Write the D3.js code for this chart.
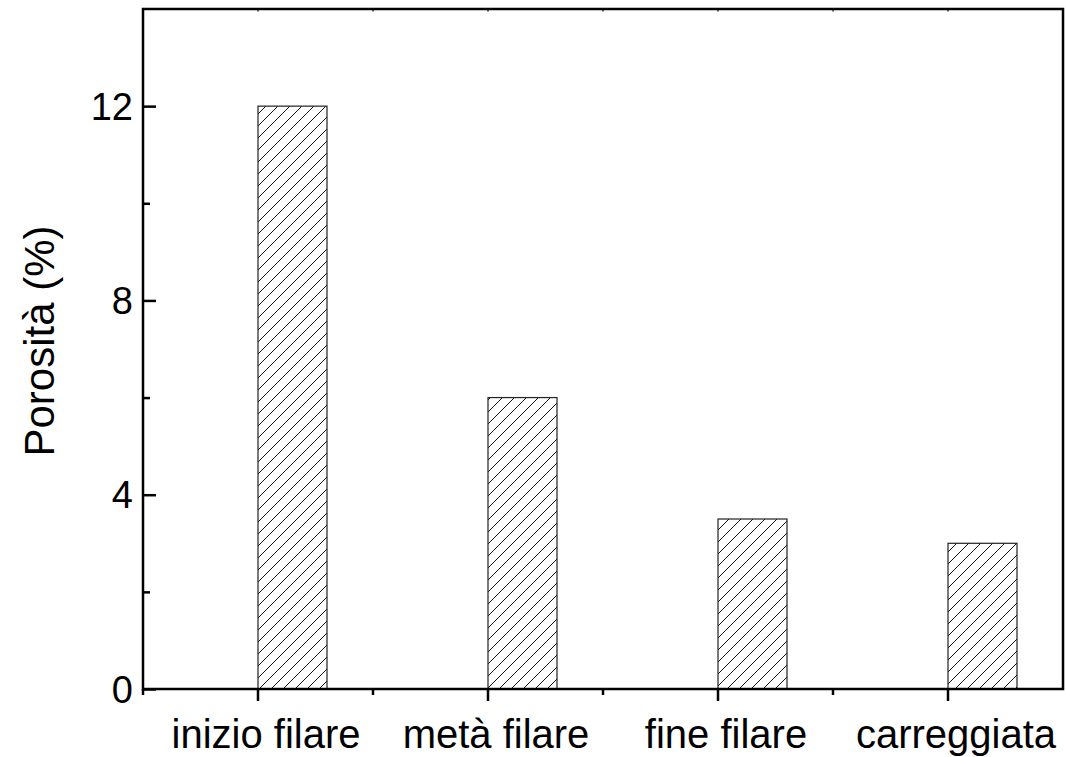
<!DOCTYPE html>
<html>
<head>
<meta charset="utf-8">
<script src="https://cdn.jsdelivr.net/npm/d3@7"></script>
<style>
  html, body { margin: 0; padding: 0; background: #fff; }
  svg { display: block; font-family: "Liberation Sans", Arial, sans-serif; }
</style>
</head>
<body>
<svg id="chart" width="1066" height="757"></svg>
<script>
// Porosity measured at each sampling location
const categories = ["inizio filare", "metà filare", "fine filare", "carreggiata"];
const porosity = [12.0, 6.0, 3.5, 3.0];
const majorTicks = [0, 4, 8, 12];
const minorTicks = [2, 6, 10];
const yTitle = "Porosità (%)";

const W = 1066, H = 757;
const margin = { left: 143, right: 3, top: 9, bottom: 68 };
const x0 = margin.left, x1 = W - margin.right;
const y0 = H - margin.bottom, y1 = margin.top;

const svg = d3.select("#chart");

const x = d3.scaleBand().domain(categories).range([x0, x1]).padding(0);
const y = d3.scaleLinear().domain([0, 14]).range([y0, y1]);
const center = c => x(c) + x.bandwidth() / 2;
const barW = x.bandwidth() * 0.3;

// diagonal hatch fill
const defs = svg.append("defs");
const pat = defs.append("pattern")
  .attr("id", "hatch")
  .attr("patternUnits", "userSpaceOnUse")
  .attr("width", 12).attr("height", 12);
pat.append("path")
  .attr("d", "M-3,3 L3,-3 M0,12 L12,0 M9,15 L15,9")
  .attr("stroke", "#111").attr("stroke-width", 1);

// bars
svg.append("g").selectAll("rect")
  .data(categories)
  .join("rect")
  .attr("x", c => center(c))
  .attr("y", (c, i) => y(porosity[i]))
  .attr("width", barW)
  .attr("height", (c, i) => y(0) - y(porosity[i]))
  .attr("fill", "url(#hatch)")
  .attr("stroke", "#222")
  .attr("stroke-width", 1.2);

// frame
svg.append("rect")
  .attr("x", x0).attr("y", y1)
  .attr("width", x1 - x0).attr("height", y0 - y1)
  .attr("fill", "none").attr("stroke", "#000").attr("stroke-width", 2.5);

// left axis: inward ticks
const yAxis = svg.append("g").attr("transform", `translate(${x0},0)`);
yAxis.call(d3.axisRight(y).tickValues(majorTicks).tickSize(13).tickFormat(""))
  .call(g => g.select(".domain").remove())
  .call(g => g.selectAll("line").attr("stroke", "#000").attr("stroke-width", 2.5));
yAxis.append("g").call(d3.axisRight(y).tickValues(minorTicks).tickSize(7).tickFormat(""))
  .call(g => g.select(".domain").remove())
  .call(g => g.selectAll("line").attr("stroke", "#000").attr("stroke-width", 2.5));
yAxis.selectAll(".ylab")
  .data(majorTicks)
  .join("text")
  .attr("class", "ylab")
  .attr("x", -10)
  .attr("y", d => y(d))
  .attr("dy", "0.36em")
  .attr("text-anchor", "end")
  .attr("font-size", 38)
  .attr("fill", "#000")
  .text(d3.format("d"));

// bottom axis: outward ticks at band centres (major) and edges (minor)
const bandEdges = categories.map(c => x(c)).concat([x1]);
const xAxis = svg.append("g").attr("transform", `translate(0,${y0})`);
xAxis.call(d3.axisBottom(x).tickSize(12).tickFormat(""))
  .call(g => g.select(".domain").remove())
  .call(g => g.selectAll("line").attr("stroke", "#000").attr("stroke-width", 2.5));
xAxis.selectAll(".minor")
  .data(bandEdges.slice(0, -1))
  .join("line")
  .attr("class", "minor")
  .attr("x1", d => d).attr("x2", d => d)
  .attr("y1", 0).attr("y2", 6)
  .attr("stroke", "#000").attr("stroke-width", 2.5);
xAxis.selectAll(".xlab")
  .data(categories)
  .join("text")
  .attr("class", "xlab")
  .attr("x", c => center(c) + 8)
  .attr("y", 59)
  .attr("text-anchor", "middle")
  .attr("font-size", 40)
  .attr("fill", "#000")
  .text(c => c);

// top axis: small inward ticks
const topAxis = svg.append("g").attr("transform", `translate(0,${y1})`);
topAxis.selectAll("line")
  .data(categories.map(center).concat(bandEdges.slice(1, -1)))
  .join("line")
  .attr("x1", d => d).attr("x2", d => d)
  .attr("y1", 0).attr("y2", 2.5)
  .attr("stroke", "#000").attr("stroke-width", 1.2);

// y-axis title
svg.append("text")
  .attr("transform", `translate(54,${(y0 + y1) / 2 - 8}) rotate(-90)`)
  .attr("text-anchor", "middle")
  .attr("font-size", 42)
  .attr("fill", "#000")
  .text(yTitle);
</script>
</body>
</html>
